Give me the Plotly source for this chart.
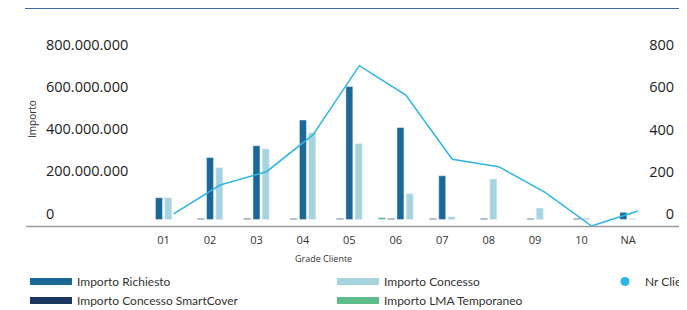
import plotly.graph_objects as go

# ---------------- data ----------------
categories = ["01", "02", "03", "04", "05", "06", "07", "08", "09", "10", "NA"]
importo_richiesto = [103e6, 293e6, 349e6, 471e6, 629e6, 435e6, 207e6, None, None, None, 34e6]
importo_concesso = [103e6, 245e6, 334e6, 411e6, 359e6, 122e6, 13e6, 192e6, 54e6, 7e6, 4e6]
importo_smartcover = [None, 5e6, 5e6, 5e6, 5e6, 5e6, 5e6, 5e6, 5e6, 5e6, None]
importo_lma = [None, None, None, None, None, 9e6, None, None, None, None, None]
nr_clienti = [57, 194, 257, 431, 759, 620, 316, 281, 159, 0, 71]
left_ticks = [0, 200e6, 400e6, 600e6, 800e6]
right_ticks = [0, 200, 400, 600, 800]

# ---------------- style ----------------
C_RICH = "#1b6797"
C_CONC = "#a5d4e0"
C_SMART = "#1b365f"
C_LMA = "#5dbd8a"
C_LINE = "#2cb5e6"
TXT = "#333333"

W, H = 679, 302                        # page body has an 8px margin
L, R, T, B = 32, 675, 12, 218          # plot area in figure pixels
PW, PH = R - L, B - T
CAT0 = 155.6                           # pixel centre of first category
CAT_STEP = 46.44                       # pixels per category
ZERO_BAR = 211.5                       # pixel of value 0 on the left axis
PX_PER_UNIT = 0.21125                  # pixels per million (left) / per client (right)

BAR_W = 0.15
SLOT = 0.2

# bar series in group order (non-empty bars are centred in each category)
series = [
    ("Importo LMA Temporaneo", importo_lma, C_LMA),
    ("Importo Concesso SmartCover", importo_smartcover, C_SMART),
    ("Importo Richiesto", importo_richiesto, C_RICH),
    ("Importo Concesso", importo_concesso, C_CONC),
]

offsets = {name: [0.0] * len(categories) for name, _, _ in series}
for i in range(len(categories)):
    present = [name for name, vals, _ in series if vals[i] is not None]
    n = len(present)
    for k, name in enumerate(present):
        offsets[name][i] = (k - (n - 1) / 2) * SLOT - BAR_W / 2

fig = go.Figure()
for name, vals, col in series:
    fig.add_trace(go.Bar(
        x=categories, y=vals, name=name, marker_color=col,
        offset=offsets[name], width=BAR_W, showlegend=False,
        legendgroup=name, xaxis="x", yaxis="y",
    ))

fig.add_trace(go.Scatter(
    x=categories, y=nr_clienti, name="Nr Clienti", mode="lines",
    line=dict(color=C_LINE, width=1.5), showlegend=False,
    legendgroup="Nr Clienti", xaxis="x2", yaxis="y2",
))

# legend entries (wide flat symbols like the reference)
legend_items = [
    ("Importo Richiesto", C_RICH, "legend"),
    ("Importo Concesso SmartCover", C_SMART, "legend"),
    ("Importo Concesso", C_CONC, "legend2"),
    ("Importo LMA Temporaneo", C_LMA, "legend2"),
]
for name, col, lg in legend_items:
    fig.add_trace(go.Scatter(
        x=[None], y=[None], mode="lines", name=name, legendgroup=name,
        line=dict(color=col, width=7), legend=lg, showlegend=True,
    ))
fig.add_trace(go.Scatter(
    x=[None], y=[None], mode="markers", name="Nr Clienti", legendgroup="Nr Clienti",
    marker=dict(color=C_LINE, size=9), legend="legend3", showlegend=True,
))

x_lo = (L - CAT0) / CAT_STEP
x_hi = (R - CAT0) / CAT_STEP
shift = 10 / CAT_STEP
y_lo = -(B - ZERO_BAR) / PX_PER_UNIT * 1e6
y_hi = (ZERO_BAR - T) / PX_PER_UNIT * 1e6

legend_font = dict(family="Lato, Noto Sans, sans-serif", size=12, color=TXT)
LEG_TOP = 1 - 259 / H


def px_x(p):
    return (p - L) / PW


def px_y(p):
    return (B - p) / PH


fig.update_layout(
    width=W, height=H,
    margin=dict(l=L, r=W - R, t=T, b=H - B, autoexpand=False),
    paper_bgcolor="white", plot_bgcolor="white",
    barmode="overlay",
    separators=",.",
    font=dict(family="Open Sans, sans-serif", color=TXT),
    xaxis=dict(
        type="category", range=[x_lo, x_hi], showgrid=False, zeroline=False,
        showline=False, ticks="", tickfont=dict(size=11, color=TXT),
        ticklabelstandoff=6, fixedrange=True,
    ),
    xaxis2=dict(
        type="category", range=[x_lo - shift, x_hi - shift], overlaying="x",
        anchor="y2", visible=False, fixedrange=True,
    ),
    yaxis=dict(
        range=[y_lo, y_hi], tickvals=left_ticks, tickformat=",d",
        showgrid=False, zeroline=False, showline=False, ticks="",
        ticklabelposition="inside", ticklabelstandoff=3, ticklabelshift=-6,
        tickfont=dict(size=14.5, color="#222222"), fixedrange=True,
    ),
    yaxis2=dict(
        range=[0, PH / PX_PER_UNIT], tickvals=right_ticks, overlaying="y",
        side="right", anchor="x2", showgrid=False, zeroline=False,
        showline=False, ticks="", ticklabelposition="inside",
        ticklabelstandoff=6, ticklabelshift=-12,
        tickfont=dict(size=14.5, color="#222222"), fixedrange=True,
    ),
    legend=dict(
        xref="container", yref="container", x=17 / W, y=LEG_TOP,
        xanchor="left", yanchor="top", orientation="v", itemwidth=42,
        font=legend_font, tracegroupgap=0, bgcolor="rgba(0,0,0,0)",
        itemclick=False, itemdoubleclick=False,
    ),
    legend2=dict(
        xref="container", yref="container", x=324 / W, y=LEG_TOP,
        xanchor="left", yanchor="top", orientation="v", itemwidth=42,
        font=legend_font, tracegroupgap=0, bgcolor="rgba(0,0,0,0)",
        itemclick=False, itemdoubleclick=False,
    ),
    legend3=dict(
        xref="container", yref="container", x=597 / W, y=LEG_TOP,
        xanchor="left", yanchor="top", orientation="v", itemwidth=30,
        font=legend_font, bgcolor="rgba(0,0,0,0)",
        itemclick=False, itemdoubleclick=False,
    ),
    shapes=[
        dict(type="line", xref="paper", yref="paper",
             x0=px_x(17), x1=px_x(W + 5), y0=px_y(0), y1=px_y(0),
             line=dict(color="#3d6da6", width=2)),
        dict(type="line", xref="paper", yref="paper",
             x0=px_x(18), x1=px_x(W + 5), y0=px_y(B + 0.5), y1=px_y(B + 0.5),
             line=dict(color="#9a9a9a", width=1.5)),
    ],
    annotations=[
        dict(text="Grade Cliente", xref="paper", yref="paper",
             x=px_x(315), y=px_y(250), showarrow=False,
             xanchor="center", yanchor="middle", font=dict(size=9, color=TXT)),
        dict(text="Importo", xref="paper", yref="paper",
             x=px_x(24), y=px_y(111), showarrow=False, textangle=-90,
             xanchor="center", yanchor="middle", font=dict(size=10, color=TXT)),
        dict(text="Nr Clienti", xref="paper", yref="paper",
             x=px_x(683), y=px_y(111), showarrow=False, textangle=90,
             xanchor="center", yanchor="middle", font=dict(size=10, color=TXT)),
    ],
)

fig.write_html("out.html", config={"displayModeBar": False})
